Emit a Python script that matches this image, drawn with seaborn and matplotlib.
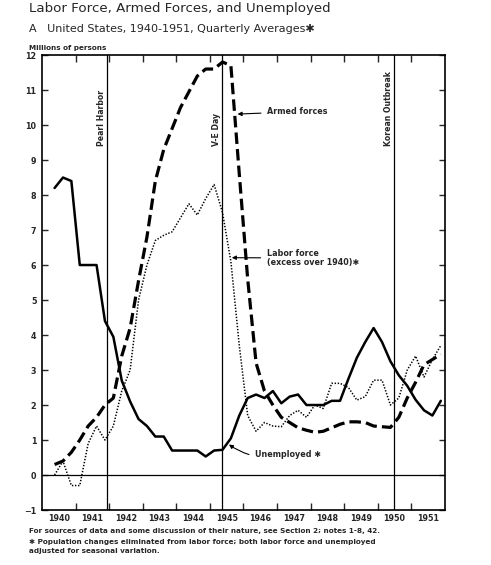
import numpy as np
import pandas as pd
import matplotlib
matplotlib.use("Agg")
import matplotlib.pyplot as plt
import seaborn as sns

# quarterly averages, 1940 Q2 .. 1951 Q4 (millions of persons)
quarters = [f"{y}Q{q}" for y in range(1940, 1952) for q in (1, 2, 3, 4)][1:]

unemployed = [8.2, 8.5, 8.4, 6.0, 6.0, 6.0, 4.4, 3.95, 2.7, 2.1,
              1.6, 1.4, 1.1, 1.1, 0.7, 0.7, 0.7, 0.7, 0.53, 0.7,
              0.72, 1.05, 1.7, 2.2, 2.3, 2.2, 2.4, 2.05, 2.24, 2.3,
              2.0, 2.0, 2.0, 2.12, 2.12, 2.75, 3.35, 3.8, 4.2, 3.8,
              3.25, 2.85, 2.55, 2.15, 1.85, 1.7, 2.12]

armed_forces = [0.3, 0.4, 0.65, 1.0, 1.4, 1.65, 2.0, 2.2, 3.4, 4.2,
                5.55, 6.8, 8.4, 9.3, 9.9, 10.5, 10.95, 11.4, 11.6, 11.6,
                11.8, 11.7, 8.6, 5.6, 3.2, 2.4, 2.0, 1.65, 1.5, 1.35,
                1.28, 1.22, 1.25, 1.35, 1.45, 1.52, 1.52, 1.5, 1.4, 1.38,
                1.36, 1.65, 2.2, 2.65, 3.15, 3.3, 3.45]

labor_excess = [0.0, 0.4, -0.3, -0.3, 0.9, 1.4, 1.0, 1.4, 2.4, 3.0,
                5.0, 6.0, 6.7, 6.85, 6.95, 7.35, 7.75, 7.43, 7.9, 8.3,
                7.5, 6.1, 3.7, 1.7, 1.25, 1.5, 1.4, 1.38, 1.7, 1.85,
                1.65, 2.0, 1.9, 2.62, 2.62, 2.5, 2.14, 2.24, 2.71, 2.71,
                2.0, 2.2, 3.0, 3.4, 2.8, 3.3, 3.7]

events = ["Pearl Harbor", "V-E Day", "Korean Outbreak"]
event_dates = [1941.93, 1945.35, 1950.48]

years = list(range(1940, 1952))

df = pd.DataFrame({
    "quarter": quarters,
    "unemployed": unemployed,
    "armed": armed_forces,
    "labor": labor_excess,
})
df["t"] = [int(q[:4]) + (int(q[-1]) - 0.5) / 4 for q in df["quarter"]]

sns.set_style("ticks")
plt.rcParams["font.family"] = ["DejaVu Sans"]

fig = plt.figure(figsize=(4.91, 5.65), dpi=100)
ax = fig.add_axes([0.0855, 0.0973, 0.8208, 0.8053])

sns.lineplot(data=df, x="t", y="armed", ax=ax, color="black", lw=2.3,
             dashes=False, linestyle=(0, (3.6, 1.6)))
sns.lineplot(data=df, x="t", y="labor", ax=ax, color="black", lw=1.1,
             linestyle=(0, (0.9, 1.1)))
sns.lineplot(data=df, x="t", y="unemployed", ax=ax, color="black", lw=1.8)

ax.axhline(0, color="black", lw=0.9)
for name, d in zip(events, event_dates):
    ax.axvline(d, color="black", lw=0.9)
    ax.text(d - 0.15, 9.4, name, rotation=90, ha="center", va="bottom",
            fontsize=5.6, fontweight="bold")

ax.set_xlim(1940, 1952)
ax.set_ylim(-1, 12)
ax.set_xlabel("")
ax.set_ylabel("")

ax.set_xticks(years[1:])
ax.set_xticklabels([])
ax.set_xticks([y + 0.5 for y in years], minor=True)
ax.set_xticklabels([str(y) for y in years], minor=True, fontsize=5.8,
                   fontweight="bold")
ax.tick_params(axis="x", which="major", direction="in", length=5, width=1,
               top=True, bottom=True)
ax.tick_params(axis="x", which="minor", length=0, pad=3)

ax.set_yticks(range(-1, 13))
ax.set_yticklabels(["\u22121"] + [str(v) for v in range(0, 13)],
                   fontsize=5.8, fontweight="bold")
ax.tick_params(axis="y", direction="in", length=4, width=1,
               left=True, right=True, pad=4)

for s in ax.spines.values():
    s.set_linewidth(1.2)
    s.set_color("black")

arrow = dict(arrowstyle="-|>", color="black", lw=0.8, mutation_scale=6)
ax.annotate("Armed forces", xy=(1945.74, 10.31), xytext=(1946.7, 10.38),
            va="center", fontsize=5.8, fontweight="bold", arrowprops=arrow)
ax.annotate("Labor force\n(excess over 1940)\u2731", xy=(1945.57, 6.21),
            xytext=(1946.69, 6.2), va="center", fontsize=5.8,
            fontweight="bold", linespacing=1.1, arrowprops=arrow)
ax.annotate("Unemployed \u2731", xy=(1945.5, 0.92), xytext=(1946.34, 0.59),
            va="center", fontsize=5.8, fontweight="bold",
            arrowprops=dict(arrow, connectionstyle="arc3,rad=-0.25"))

fig.text(29 / 491, 1 - 12 / 565, "Labor Force, Armed Forces, and Unemployed",
         fontsize=9.6, va="baseline")
fig.text(29 / 491, 1 - 32 / 565,
         "A   United States, 1940-1951, Quarterly Averages\u2731",
         fontsize=8.0, va="baseline")
fig.text(29 / 491, 1 - 50 / 565, "Millions of persons", fontsize=5.2,
         fontweight="bold", va="baseline")
fig.text(29 / 491, 1 - 533 / 565,
         "For sources of data and some discussion of their nature, see Section 2; notes 1-8, 42.",
         fontsize=5.2, fontweight="bold", va="baseline")
fig.text(29 / 491, 1 - 544 / 565,
         "\u2731 Population changes eliminated from labor force; both labor force and unemployed",
         fontsize=5.2, fontweight="bold", va="baseline")
fig.text(29 / 491, 1 - 552.5 / 565, "adjusted for seasonal variation.",
         fontsize=5.2, fontweight="bold", va="baseline")

fig.savefig("out.png", dpi=100, facecolor="white")
